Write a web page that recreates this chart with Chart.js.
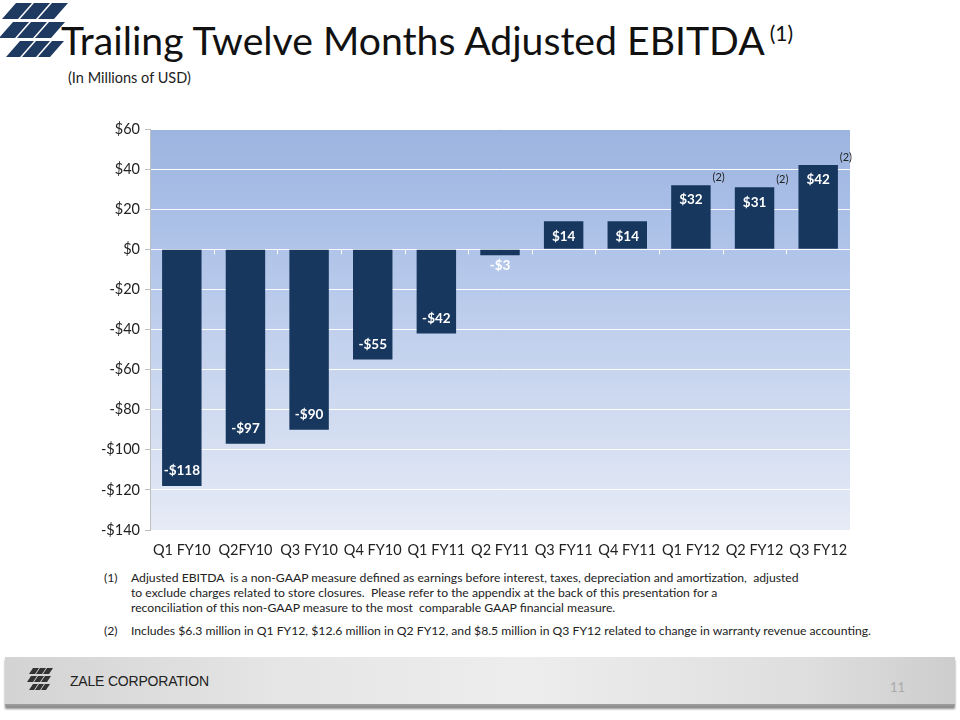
<!DOCTYPE html>
<html>
<head>
<meta charset="utf-8">
<script src="https://cdn.jsdelivr.net/npm/chart.js@4"></script>
<style>
  html, body { margin: 0; padding: 0; background: #ffffff; }
  body { width: 960px; height: 720px; position: relative; overflow: hidden; font-family: Lato, "Open Sans", sans-serif; }
  #logo { position: absolute; left: 0; top: 0; }
  #title { position: absolute; left: 61px; top: 16px; font-size: 39.2px; color: #111; white-space: nowrap; }
  #title sup { font-size: 21px; vertical-align: 0; position: relative; top: -14px; margin-left: 5px; }
  #subtitle { position: absolute; left: 68px; top: 69px; font-size: 14.5px; color: #222; }
  #chartbox { position: absolute; left: 0; top: 100px; width: 960px; height: 470px; }
  .fn { position: absolute; font-size: 12.2px; color: #222; line-height: 15px; white-space: nowrap; }
  .fn .n { position: absolute; left: -27px; }
  #footer { position: absolute; left: 5px; top: 657px; width: 950px; height: 47px;
    background: linear-gradient(to right, #d3d3d3 0%, #e6e6e6 30%, #ededed 55%, #dedede 85%, #cdcdcd 100%);
    box-shadow: 0 3px 2px #8c8c8c; border-bottom: 2px solid #9a9a9a; }
  #zale { position: absolute; left: 65px; top: 16px; font-family: "Liberation Sans", Arial, sans-serif; font-size: 14px; color: #222; letter-spacing: -0.2px; }
  #pnum { position: absolute; left: 885px; top: 22px; font-size: 13px; color: #aaa; }
  #flogo { position: absolute; left: 20px; top: 10px; }
</style>
</head>
<body>
<svg id="logo" width="70" height="60" viewBox="0 0 70 60">
  <g fill="#1f3a60">
    <polygon points="16,3 32,3 18,19 2,19"/>
    <polygon points="34,3 50,3 36,19 20,19"/>
    <polygon points="52,3 68,3 54,19 38,19"/>
    <polygon points="13,22 29,22 15,38 -1,38"/>
    <polygon points="31,22 47,22 33,38 17,38"/>
    <polygon points="49,22 65,22 51,38 35,38"/>
    <polygon points="20,41 34,41 20,57 6,57"/>
    <polygon points="36,41 50,41 36,57 22,57"/>
    <polygon points="52,41 64,41 50,57 38,57"/>
  </g>
</svg>
<div id="title">Trailing Twelve Months Adjusted EBITDA<sup>(1)</sup></div>
<div id="subtitle">(In Millions of USD)</div>
<div id="chartbox"><canvas id="c"></canvas></div>

<div class="fn" style="left:131px; top:570px;"><span class="n">(1)</span>Adjusted EBITDA&nbsp; is a non-GAAP measure defined as earnings before interest, taxes, depreciation and amortization,&nbsp; adjusted<br>to exclude charges related to store closures.&nbsp; Please refer to the appendix at the back of this presentation for a<br>reconciliation of this non-GAAP measure to the most&nbsp; comparable GAAP financial measure.</div>
<div class="fn" style="left:131px; top:623px;"><span class="n">(2)</span>Includes $6.3 million in Q1 FY12, $12.6 million in Q2 FY12, and $8.5 million in Q3 FY12 related to change in warranty revenue accounting.</div>

<div id="footer">
  <svg id="flogo" width="30" height="28" viewBox="0 0 30 28">
    <g fill="#333">
      <polygon points="8,1 14,1 10,7 4,7"/><polygon points="15,1 21,1 17,7 11,7"/><polygon points="22,1 28,1 24,7 18,7"/>
      <polygon points="6,9 12,9 8,15 2,15"/><polygon points="13,9 19,9 15,15 9,15"/><polygon points="20,9 26,9 22,15 16,15"/>
      <polygon points="8,17 13,17 9,23 4,23"/><polygon points="14,17 19,17 15,23 10,23"/><polygon points="20,17 25,17 21,23 16,23"/>
    </g>
  </svg>
  <div id="zale">ZALE CORPORATION</div>
  <div id="pnum">11</div>
</div>

<script>
const categories = ["Q1 FY10", "Q2FY10", "Q3 FY10", "Q4 FY10", "Q1 FY11", "Q2 FY11", "Q3 FY11", "Q4 FY11", "Q1 FY12", "Q2 FY12", "Q3 FY12"];
const ebitda = [-118, -97, -90, -55, -42, -3, 14, 14, 32, 31, 42];
const valueLabels = ["-$118", "-$97", "-$90", "-$55", "-$42", "-$3", "$14", "$14", "$32", "$31", "$42"];
const noteMarks = ["", "", "", "", "", "", "", "", "(2)", "(2)", "(2)"];
const yTickValues = [60, 40, 20, 0, -20, -40, -60, -80, -100, -120, -140];
const yTickLabels = ["$60", "$40", "$20", "$0", "-$20", "-$40", "-$60", "-$80", "-$100", "-$120", "-$140"];

const bgPlugin = {
  id: 'bg',
  beforeDraw(chart) {
    const { ctx, chartArea: a } = chart;
    const g = ctx.createLinearGradient(0, a.top, 0, a.bottom);
    g.addColorStop(0, '#9cb4e0');
    g.addColorStop(0.3, '#b0c4e9');
    g.addColorStop(1, '#e6ebf6');
    ctx.save();
    ctx.fillStyle = g;
    ctx.fillRect(a.left, a.top, a.right - a.left, a.bottom - a.top);
    ctx.restore();
  }
};

const labelPlugin = {
  id: 'labels',
  afterDatasetsDraw(chart) {
    const { ctx } = chart;
    const meta = chart.getDatasetMeta(0);
    const yScale = chart.scales.y;
    const xScale = chart.scales.x;
    const y0 = yScale.getPixelForValue(0);
    ctx.save();
    ctx.strokeStyle = '#ffffff';
    ctx.lineWidth = 1;
    for (let i = 1; i < categories.length; i++) {
      const xb = Math.round((xScale.getPixelForValue(i - 1) + xScale.getPixelForValue(i)) / 2) + 0.5;
      ctx.beginPath(); ctx.moveTo(xb, y0); ctx.lineTo(xb, y0 + 5); ctx.stroke();
    }
    ctx.textAlign = 'center';
    ctx.textBaseline = 'middle';
    meta.data.forEach((bar, i) => {
      const v = ebitda[i];
      const h = Math.abs(bar.y - bar.base);
      let ty;
      if (v >= 0) ty = bar.y + 15;
      else ty = h > 25 ? bar.y - 15 : bar.y + 10;
      ctx.font = 'bold 13.5px Lato, "Open Sans", sans-serif';
      ctx.fillStyle = '#ffffff';
      ctx.fillText(valueLabels[i], bar.x, ty);
      if (noteMarks[i]) {
        ctx.font = '11px Lato, "Open Sans", sans-serif';
        ctx.fillStyle = '#222';
        ctx.fillText(noteMarks[i], bar.x + bar.width / 2 + 8, bar.y - 8);
      }
    });
    ctx.restore();
  }
};

new Chart(document.getElementById('c'), {
  type: 'bar',
  data: {
    labels: categories,
    datasets: [{
      data: ebitda,
      backgroundColor: '#17375e',
      borderWidth: 0,
      categoryPercentage: 1.0,
      barPercentage: 0.62
    }]
  },
  options: {
    responsive: true,
    maintainAspectRatio: false,
    animation: false,
    devicePixelRatio: 1,
    layout: { padding: { left: 0, right: 110, top: 29, bottom: 0 } },
    plugins: { legend: { display: false }, tooltip: { enabled: false } },
    scales: {
      x: {
        grid: { display: false, drawTicks: false },
        border: { display: false },
        ticks: { color: '#222', font: { family: 'Lato, "Open Sans", sans-serif', size: 14.5 }, padding: 12, maxRotation: 0, autoSkip: false },
        afterFit(s) { s.height = 40; }
      },
      y: {
        min: -140, max: 60,
        afterBuildTicks(s) { s.ticks = yTickValues.map(v => ({ value: v })); },
        grid: { color: '#ffffff', lineWidth: 1, tickColor: '#bfbfbf', tickLength: 5 },
        border: { display: true, color: '#bfbfbf' },
        ticks: {
          color: '#222',
          font: { family: 'Lato, "Open Sans", sans-serif', size: 14.5 },
          padding: 5,
          callback(v) { const i = yTickValues.indexOf(v); return i >= 0 ? yTickLabels[i] : ''; }
        },
        afterFit(s) { s.width = 150; }
      }
    }
  },
  plugins: [bgPlugin, labelPlugin]
});
</script>
</body>
</html>
